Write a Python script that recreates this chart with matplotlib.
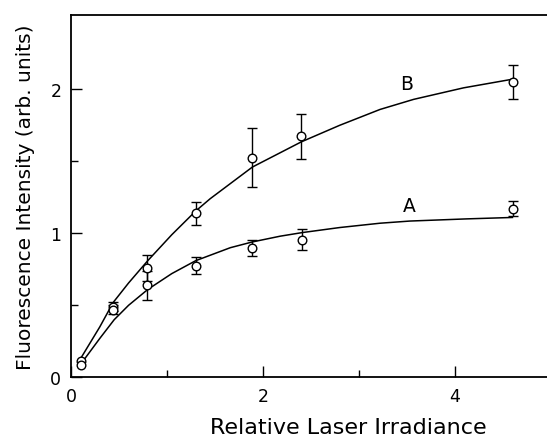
import numpy as np
from matplotlib import pyplot as plt

# measured points (x = relative irradiance, y = fluorescence)
b_x = [0.10, 0.44, 0.795, 1.30, 1.89, 2.40, 4.61]
b_y = [0.115, 0.49, 0.757, 1.14, 1.525, 1.674, 2.05]
b_err = [0.0, 0.03, 0.09, 0.08, 0.205, 0.155, 0.12]

a_x = [0.10, 0.44, 0.795, 1.30, 1.89, 2.41, 4.61]
a_y = [0.085, 0.47, 0.64, 0.775, 0.90, 0.955, 1.17]
a_err = [0.0, 0.03, 0.10, 0.058, 0.055, 0.073, 0.052]

# hand drawn curves
curve_b_x = [0.10, 0.30, 0.44, 0.60, 0.80, 1.05, 1.30, 1.45, 1.89, 2.40, 2.80, 3.22, 3.57, 4.09, 4.60]
curve_b_y = [0.13, 0.35, 0.52, 0.655, 0.81, 0.99, 1.155, 1.24, 1.46, 1.635, 1.75, 1.86, 1.93, 2.01, 2.07]

curve_a_x = [0.10, 0.30, 0.45, 0.60, 0.80, 1.05, 1.30, 1.66, 1.89, 2.18, 2.41, 2.80, 3.22, 3.53, 4.12, 4.60]
curve_a_y = [0.09, 0.27, 0.40, 0.50, 0.61, 0.72, 0.81, 0.90, 0.94, 0.98, 1.005, 1.04, 1.07, 1.085, 1.10, 1.11]

plt.rcParams['font.family'] = ['DejaVu Sans']

fig = plt.figure(figsize=(5.47, 4.39), dpi=100)
ax = fig.add_axes([71 / 547, 60.7 / 439, 476 / 547, 362.6 / 439])

ax.plot(curve_b_x, curve_b_y, color='black', lw=1.1, zorder=2)
ax.plot(curve_a_x, curve_a_y, color='black', lw=1.1, zorder=2)

for xs, ys, errs in [(b_x, b_y, b_err), (a_x, a_y, a_err)]:
    xs, ys, errs = np.array(xs), np.array(ys), np.array(errs)
    m = errs > 0
    ax.errorbar(xs[m], ys[m], yerr=errs[m], fmt='none', ecolor='black',
                elinewidth=1.0, capsize=3.3, capthick=1.0, zorder=3)
    ax.plot(xs, ys, 'o', ms=6.2, mfc='white', mec='black', mew=1.0, zorder=4)

ax.text(3.5, 2.04, 'B', fontsize=13.5, ha='center', va='center')
ax.text(3.52, 1.19, 'A', fontsize=13.5, ha='center', va='center')

ax.set_xlim(0, 4.96)
ax.set_ylim(0, 2.518)
ax.set_xticks([0, 2, 4])
ax.set_xticks([1, 3], minor=True)
ax.set_yticks([0, 1, 2])
ax.set_yticks([0.5, 1.5], minor=True)
ax.tick_params(which='both', direction='in', labelsize=12.5, width=1.0, pad=7)
ax.tick_params(which='major', length=8)
ax.tick_params(which='minor', length=5)
ax.spines['right'].set_visible(False)
for s in ['left', 'bottom', 'top']:
    ax.spines[s].set_linewidth(1.3)

ax.set_xlabel('Relative Laser Irradiance', fontsize=16)
ax.xaxis.set_label_coords(0.582, -0.11)
ax.set_ylabel('Fluorescence Intensity (arb. units)', fontsize=14.5, labelpad=11)

plt.savefig('out.png', dpi=100)
